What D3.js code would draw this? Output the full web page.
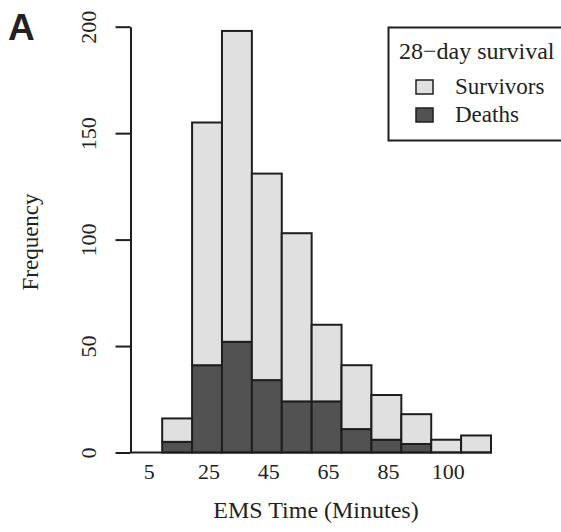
<!DOCTYPE html>
<html lang="en">
<head>
    <meta charset="UTF-8">
    <title>EMS Time histogram by 28-day survival</title>
    <script src="https://d3js.org/d3.v7.min.js"></script>
    <style>
        body { margin: 0; background: #fff; }
        svg text { font-family: "Liberation Serif", "Times New Roman", serif; fill: #222; }
    </style>
</head>
<body>
    <svg width="561" height="532"></svg>

    <script>
        // Bins of 10 minutes, start of each bin
        const binStart = [10, 20, 30, 40, 50, 60, 70, 80, 90, 100, 110];
        const deaths = [5, 41, 52, 34, 24, 24, 11, 6, 4, 0, 0];
        const survivors = [11, 114, 146, 97, 79, 36, 30, 21, 14, 6, 8];

        // x tick labels sit at bin centres
        const xTickPos = [5, 25, 45, 65, 85, 105];
        const xTickLabels = ["5", "25", "45", "65", "85", "100"];
        const yTicks = [0, 50, 100, 150, 200];

        const width = 561;
        const height = 532;

        const svg = d3.select("svg")
            .attr("width", width)
            .attr("height", height);

        const x = d3.scaleLinear()
            .domain([0, 120])
            .range([132.3, 491]);

        const y = d3.scaleLinear()
            .domain([0, 200])
            .range([452.5, 26.7]);

        const data = binStart.map((b, i) => ({ start: b, deaths: deaths[i], survivors: survivors[i] }));
        const stacked = d3.stack().keys(["deaths", "survivors"])(data);
        const fills = { deaths: "#525252", survivors: "#e0e0e0" };

        // bars
        svg.append("g")
            .selectAll("g")
            .data(stacked)
            .join("g")
            .attr("fill", d => fills[d.key])
            .selectAll("rect")
            .data(d => d)
            .join("rect")
            .attr("x", d => x(d.data.start))
            .attr("width", d => x(d.data.start + 10) - x(d.data.start))
            .attr("y", d => y(d[1]))
            .attr("height", d => y(d[0]) - y(d[1]))
            .attr("stroke", "#1e1e1e")
            .attr("stroke-width", 2);

        // baseline under the bars
        svg.append("line")
            .attr("x1", 130.5)
            .attr("x2", x(120) + 1)
            .attr("y1", y(0))
            .attr("y2", y(0))
            .attr("stroke", "#1e1e1e")
            .attr("stroke-width", 2);

        // y axis (R style, rotated labels)
        const yAxis = svg.append("g")
            .attr("transform", "translate(130.5,0)")
            .call(d3.axisLeft(y).tickValues(yTicks).tickSize(15).tickSizeOuter(0));
        yAxis.select(".domain").attr("stroke", "#1e1e1e").attr("stroke-width", 2);
        yAxis.selectAll(".tick line").attr("stroke", "#1e1e1e").attr("stroke-width", 2);
        yAxis.selectAll(".tick text")
            .attr("x", null).attr("dy", null)
            .attr("transform", "translate(-34.5,0) rotate(-90)")
            .attr("text-anchor", "middle")
            .style("font-size", "22px")
            .style("font-family", "'Liberation Serif', serif")
            .attr("fill", "#222");

        // x tick labels (no tick marks)
        svg.append("g")
            .selectAll("text")
            .data(xTickPos)
            .join("text")
            .attr("x", d => x(d) + 2)
            .attr("y", 479)
            .attr("text-anchor", "middle")
            .style("font-size", "22px")
            .text((d, i) => xTickLabels[i]);

        // axis titles
        svg.append("text")
            .attr("x", 316)
            .attr("y", 518)
            .attr("text-anchor", "middle")
            .style("font-size", "24px")
            .text("EMS Time (Minutes)");

        svg.append("text")
            .attr("transform", "translate(38,242) rotate(-90)")
            .attr("text-anchor", "middle")
            .style("font-size", "23px")
            .text("Frequency");

        // panel letter
        svg.append("text")
            .attr("x", 8)
            .attr("y", 40)
            .style("font-family", "'Liberation Sans', Arial, sans-serif")
            .style("font-weight", "bold")
            .style("font-size", "37px")
            .attr("fill", "#111")
            .text("A");

        // legend
        const legend = svg.append("g");
        legend.append("rect")
            .attr("x", 388.5)
            .attr("y", 27.5)
            .attr("width", 175)
            .attr("height", 113)
            .attr("fill", "#fff")
            .attr("stroke", "#1e1e1e")
            .attr("stroke-width", 2);
        legend.append("text")
            .attr("x", 399)
            .attr("y", 59)
            .style("font-size", "24px")
            .text("28\u2212day survival");

        const legendItems = [
            { label: "Survivors", key: "survivors" },
            { label: "Deaths", key: "deaths" }
        ];
        const item = legend.selectAll(".item")
            .data(legendItems)
            .join("g")
            .attr("class", "item")
            .attr("transform", (d, i) => `translate(0,${87 + i * 28})`);
        item.append("rect")
            .attr("x", 416)
            .attr("y", -7)
            .attr("width", 17)
            .attr("height", 14)
            .attr("fill", d => fills[d.key])
            .attr("stroke", "#1e1e1e")
            .attr("stroke-width", 1.5);
        item.append("text")
            .attr("x", 455)
            .attr("y", 7)
            .style("font-size", "23px")
            .text(d => d.label);
    </script>
</body>
</html>
